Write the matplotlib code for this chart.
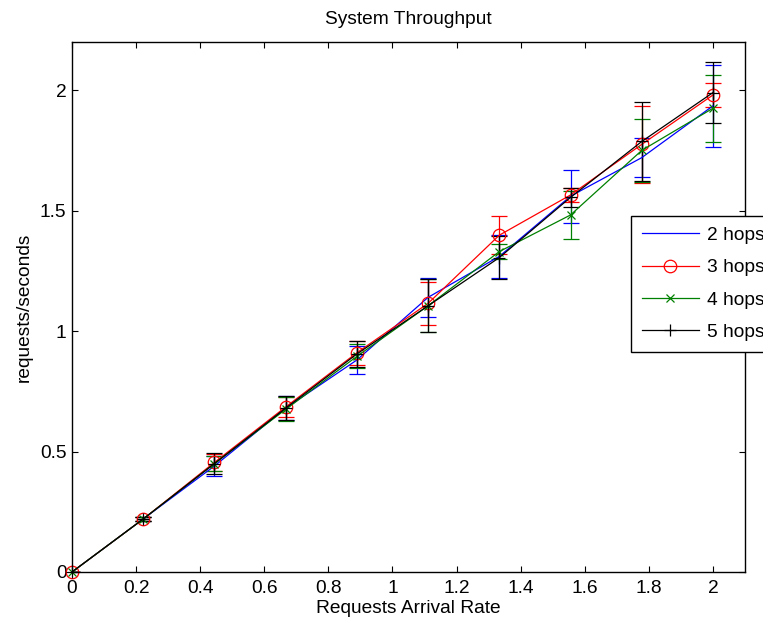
import matplotlib
matplotlib.use("Agg")
import matplotlib.pyplot as plt
import numpy as np

plt.rcParams['font.family'] = ['Liberation Sans', 'DejaVu Sans']

rate = [0, 0.2222, 0.4444, 0.6667, 0.8889, 1.1111, 1.3333, 1.5556, 1.7778, 2.0]

hops2 = [0, 0.22, 0.44, 0.68, 0.88, 1.14, 1.31, 1.56, 1.72, 1.935]
hops2_err = [0, 0.01, 0.04, 0.05, 0.06, 0.08, 0.09, 0.11, 0.08, 0.17]
hops3 = [0, 0.22, 0.455, 0.685, 0.91, 1.115, 1.398, 1.565, 1.775, 1.98]
hops3_err = [0, 0.01, 0.035, 0.04, 0.05, 0.09, 0.08, 0.03, 0.16, 0.05]
hops4 = [0, 0.22, 0.45, 0.675, 0.895, 1.105, 1.33, 1.482, 1.75, 1.925]
hops4_err = [0, 0.01, 0.03, 0.05, 0.05, 0.11, 0.03, 0.10, 0.13, 0.14]
hops5 = [0, 0.22, 0.45, 0.68, 0.905, 1.105, 1.305, 1.555, 1.787, 1.99]
hops5_err = [0, 0.01, 0.045, 0.05, 0.055, 0.11, 0.09, 0.04, 0.165, 0.125]

labels = ['2 hops', '3 hops', '4 hops', '5 hops']
colors = ['#0000ff', '#ff0000', '#008000', '#000000']
markers = ['None', 'o', 'x', '+']
msizes = [0, 9, 6, 9]

FS = 13.8

fig = plt.figure(figsize=(7.63, 6.23), dpi=100)
ax = fig.add_axes([72/763, 1-572/623, (745-72)/763, (572-42)/623])

series = [(hops2, hops2_err), (hops3, hops3_err), (hops4, hops4_err), (hops5, hops5_err)]
handles = []
for (vals, errs), lab, c, m, ms in zip(series, labels, colors, markers, msizes):
    h = ax.errorbar(rate, vals, yerr=errs, color=c, ecolor=c, marker=m, markersize=ms,
                    markerfacecolor='none', markeredgecolor=c, markeredgewidth=0.9,
                    linewidth=0.9, elinewidth=0.9, capsize=5.5, capthick=0.9, label=lab)
    h.lines[0].set_clip_on(False)
    handles.append(h.lines[0])

ax.set_xlim(0, 2.1)
ax.set_ylim(0, 2.2)
ax.set_xticks(np.arange(0, 2.01, 0.2))
ax.set_xticklabels(['0', '0.2', '0.4', '0.6', '0.8', '1', '1.2', '1.4', '1.6', '1.8', '2'])
ax.set_yticks([0, 0.5, 1, 1.5, 2])
ax.set_yticklabels(['0', '0.5', '1', '1.5', '2'])
ax.tick_params(direction='in', top=True, right=True, length=4.5, width=0.8,
               labelsize=FS)
ax.tick_params(axis='x', pad=6)
ax.tick_params(axis='y', pad=4)
for s in ax.spines.values():
    s.set_linewidth(1.0)

ax.set_title('System Throughput', fontsize=FS, pad=13)
ax.set_xlabel('Requests Arrival Rate', fontsize=FS, labelpad=2)
ax.set_ylabel('requests/seconds', fontsize=FS, labelpad=5)

leg = ax.legend(handles=handles, labels=labels, loc='upper left',
                bbox_to_anchor=((631-72)/673, (572-216)/530), borderaxespad=0,
                fontsize=FS, frameon=True, fancybox=False, framealpha=1,
                edgecolor='black', handlelength=3.0, handletextpad=0.4,
                labelspacing=0.78, borderpad=0.55)
leg.get_frame().set_linewidth(1.0)
leg.set_zorder(10)

fig.savefig('out.png', dpi=100)
